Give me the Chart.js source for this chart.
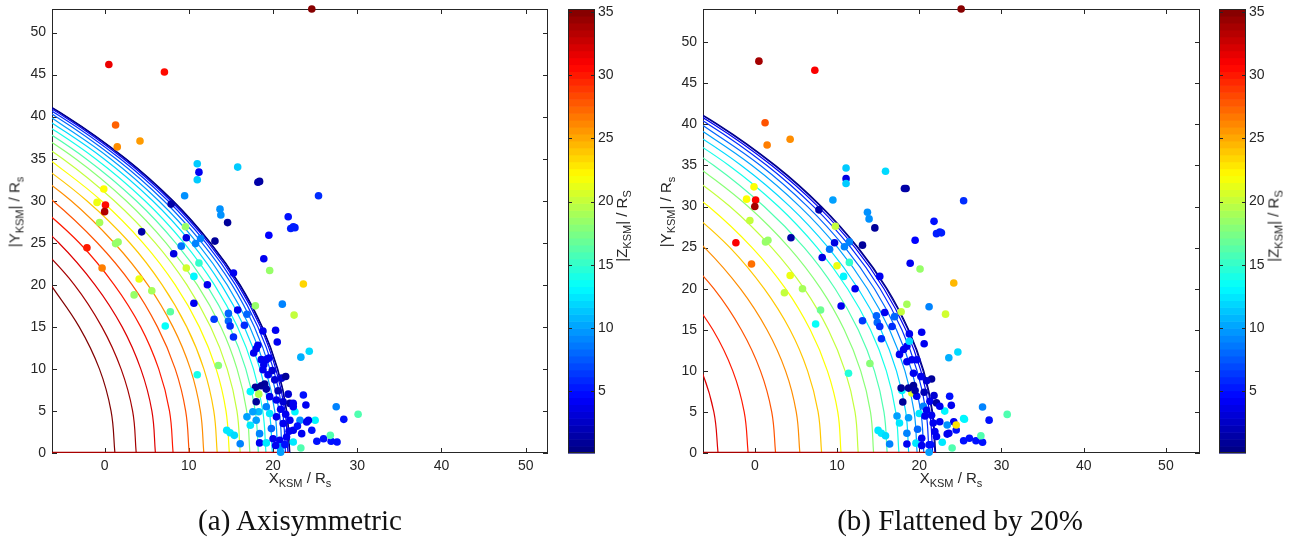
<!DOCTYPE html>
<html>
<head>
<meta charset="utf-8">
<script src="https://cdn.jsdelivr.net/npm/chart.js@4.4.1/dist/chart.umd.min.js"></script>
<style>
  body { margin: 0; background: #fff; width: 1297px; height: 544px; overflow: hidden; position: relative;
         font-family: "Liberation Sans", Arial, sans-serif; }
  canvas { position: absolute; top: 0; }
  .lbl { position: absolute; white-space: nowrap; font-size: 15px; line-height: 1; color: #262626;
         transform: translate(-50%, -50%); }
  .lbl.rot { transform: translate(-50%, -50%) rotate(-90deg); }
  .lbl sub { font-size: 11px; vertical-align: -4px; line-height: 1; }
  .cap { position: absolute; top: 520px; transform: translate(-50%, -50%); white-space: nowrap;
         font-family: "Liberation Serif", "DejaVu Serif", serif; font-size: 29px; color: #111; }
</style>
</head>
<body>
<canvas id="plot-a" width="560" height="500" style="left:0"></canvas>
<canvas id="cbar-a" width="80" height="500" style="left:560px"></canvas>
<canvas id="plot-b" width="560" height="500" style="left:650px"></canvas>
<canvas id="cbar-b" width="80" height="500" style="left:1211px"></canvas>

<div class="lbl" style="left:300px;top:479px">X<sub>KSM</sub> / R<sub>s</sub></div>
<div class="lbl rot" style="left:16px;top:212px">|Y<sub>KSM</sub>| / R<sub>s</sub></div>
<div class="lbl rot" style="left:623px;top:226px">|Z<sub>KSM</sub>| / R<sub>S</sub></div>
<div class="lbl" style="left:951px;top:479px">X<sub>KSM</sub> / R<sub>s</sub></div>
<div class="lbl rot" style="left:667px;top:212px">|Y<sub>KSM</sub>| / R<sub>s</sub></div>
<div class="lbl rot" style="left:1275px;top:226px">|Z<sub>KSM</sub>| / R<sub>S</sub></div>

<div class="cap" style="left:300px">(a) Axisymmetric</div>
<div class="cap" style="left:960px">(b) Flattened by 20%</div>

<script>
/*  ── DATA ───────────────────────────────────────────────────────  */
const xTicks = [0, 10, 20, 30, 40, 50];
const yTicks = [0, 5, 10, 15, 20, 25, 30, 35, 40, 45, 50];
const cbTicks = [5, 10, 15, 20, 25, 30, 35];
const zRange = [0.1, 35.25];                    // colour scale limits

// magnetopause cuts |Z| = level: x read at these |Y| values
const curveY = [0, 5, 10, 15, 20, 25, 30, 35, 40, 45];

const levelsA = [0, 2, 4, 6, 8, 10, 12, 14, 16, 18, 20, 22, 24, 26, 28, 30, 32, 34, 36];
const curvesA = [
  [22.00, 21.63, 20.56, 18.72, 16.10, 12.58, 8.13, 2.53, -4.47, -13.18],
  [21.94, 21.58, 20.50, 18.67, 16.03, 12.52, 8.06, 2.46, -4.55, -13.27],
  [21.77, 21.41, 20.32, 18.50, 15.85, 12.33, 7.85, 2.23, -4.79, -13.53],
  [21.48, 21.12, 20.04, 18.19, 15.54, 12.02, 7.51, 1.86, -5.20, -13.98],
  [21.08, 20.72, 19.62, 17.77, 15.13, 11.56, 7.03, 1.34, -5.76, -14.59],
  [20.56, 20.20, 19.09, 17.23, 14.55, 10.98, 6.42, 0.69, -6.48],
  [19.92, 19.55, 18.45, 16.57, 13.87, 10.29, 5.70, -0.10, -7.35],
  [19.16, 18.78, 17.67, 15.77, 13.04, 9.42, 4.78, -1.09, -8.40],
  [18.26, 17.89, 16.76, 14.85, 12.10, 8.43, 3.75, -2.22, -9.66],
  [17.25, 16.87, 15.72, 13.80, 11.00, 7.28, 2.55, -3.46, -11.07],
  [16.10, 15.71, 14.55, 12.58, 9.77, 6.01, 1.14, -4.98, -12.62],
  [14.81, 14.41, 13.24, 11.24, 8.38, 4.55, -0.39, -6.66],
  [13.37, 12.96, 11.78, 9.75, 6.83, 2.98, -2.12, -8.51],
  [11.78, 11.37, 10.18, 8.11, 5.13, 1.12, -3.98, -10.60],
  [10.04, 9.62, 8.38, 6.27, 3.27, -0.87, -6.16, -12.82],
  [8.13, 7.70, 6.42, 4.28, 1.14, -3.02, -8.49],
  [6.03, 5.61, 4.29, 2.08, -1.15, -5.46, -11.07],
  [3.75, 3.32, 1.95, -0.33, -3.59, -8.08],
  [1.22, 0.76, -0.62, -3.02, -6.40],
];

const levelsB = [0, 2, 4, 6, 8, 10, 12, 14, 16, 18, 20, 22, 24, 26, 28, 30, 32];
const curvesB = [
  [22.00, 21.63, 20.56, 18.72, 16.10, 12.58, 8.13, 2.53, -4.47, -13.18],
  [21.90, 21.55, 20.46, 18.64, 16.00, 12.48, 8.02, 2.41, -4.60, -13.32],
  [21.63, 21.27, 20.20, 18.36, 15.71, 12.19, 7.70, 2.06, -4.98, -13.73],
  [21.19, 20.83, 19.74, 17.89, 15.24, 11.69, 7.16, 1.48, -5.61, -14.42],
  [20.56, 20.20, 19.09, 17.23, 14.55, 10.98, 6.42, 0.69, -6.48],
  [19.74, 19.38, 18.26, 16.39, 13.69, 10.09, 5.48, -0.33, -7.59],
  [18.72, 18.36, 17.23, 15.33, 12.58, 8.94, 4.28, -1.64, -9.01],
  [17.53, 17.14, 16.00, 14.07, 11.28, 7.59, 2.88, -3.14, -10.71],
  [16.10, 15.71, 14.55, 12.58, 9.77, 6.01, 1.14, -4.98, -12.62],
  [14.45, 14.07, 12.88, 10.88, 8.02, 4.17, -0.81, -7.10],
  [12.58, 12.19, 10.98, 8.94, 6.01, 2.06, -3.02, -9.54],
  [10.49, 10.09, 8.83, 6.74, 3.74, -0.33, -5.61, -12.23],
  [8.13, 7.70, 6.42, 4.28, 1.14, -3.02, -8.49],
  [5.48, 5.04, 3.74, 1.48, -1.76, -6.11, -11.73],
  [2.53, 2.06, 0.69, -1.64, -4.98, -9.54],
  [-0.81, -1.29, -2.68, -5.10, -8.62],
  [-4.47, -4.98, -6.48, -9.01],
];

// crossings, panel (a)
const ptsAX = [24.6, 0.5, 7.1, 1.3, 1.5, 4.2, 11.0, 11.2, 11.0, 15.8, 18.4, 18.2, 25.4, 9.5, 7.9, -0.1, -0.9, 0.1, 0.0, -0.6,
  4.4, 1.3, 1.6, -2.1, 13.7, 13.8, 14.6, 21.8, 22.1, 22.6, 22.4, 19.5, 9.6, 9.7, 11.4, 10.8, 9.1, 13.1, 8.2, 18.9,
  11.2, 9.7, 19.6, 23.6, 15.3, 12.2, 10.6, 4.1, 5.6, 3.5, -0.3, 7.8, 7.2, 10.6, 14.7, 15.8, 13.0, 14.7, 14.9, 16.6,
  15.3, 16.9, 17.9, 21.1, 22.5, 20.3, 20.5, 18.8, 24.3, 23.3, 18.2, 17.7, 18.0, 18.6, 19.2, 19.5, 18.8, 19.4, 20.2, 21.0,
  21.5, 13.5, 11.0, 17.9, 18.6, 19.0, 19.2, 17.3, 18.3, 18.0, 19.6, 20.4, 21.2, 22.0, 22.4, 23.6, 23.9, 22.6, 19.2, 16.9,
  17.3, 18.0, 19.6, 20.4, 21.2, 22.0, 23.2, 24.0, 25.0, 24.6, 23.4, 22.4, 14.5, 14.9, 15.4, 16.1, 18.4, 18.4, 19.2, 20.0,
  20.8, 21.6, 22.4, 20.9, 20.9, 23.3, 25.2, 26.0, 26.9, 27.6, 30.1, 27.5, 28.4, 26.8, 22.4, 24.2, 20.6, 21.8, 20.9, 21.5,
  21.9, 19.8, 20.3, 21.4, 22.9, 18.9, 19.9, 18.3, 17.6];
const ptsAY = [52.8, 46.2, 45.3, 39.0, 36.4, 37.1, 34.4, 33.4, 32.5, 34.0, 32.3, 32.2, 30.6, 30.6, 29.6, 31.4, 29.8, 29.5, 28.7, 27.4,
  26.3, 24.9, 25.1, 24.4, 29.0, 28.3, 27.4, 28.1, 26.7, 26.8, 26.9, 25.9, 26.9, 25.6, 25.5, 24.9, 24.6, 25.2, 23.7, 23.1,
  22.6, 22.0, 21.7, 20.1, 21.4, 20.0, 21.0, 20.7, 19.3, 18.8, 22.0, 16.8, 15.1, 17.8, 16.6, 17.0, 15.9, 15.7, 15.1, 15.2,
  13.8, 16.5, 17.5, 17.7, 16.4, 14.6, 13.2, 14.5, 12.1, 11.4, 12.8, 11.9, 12.4, 11.1, 11.1, 11.3, 9.9, 9.3, 8.7, 8.9,
  9.1, 10.4, 9.3, 7.8, 8.0, 8.2, 7.6, 7.3, 7.0, 6.1, 6.7, 6.3, 6.1, 5.9, 5.9, 6.9, 5.7, 4.9, 5.5, 4.3,
  3.3, 3.9, 4.7, 4.3, 3.5, 3.9, 3.9, 3.7, 3.9, 2.7, 2.3, 2.7, 2.7, 2.4, 2.1, 1.1, 2.3, 1.2, 1.2, 1.7,
  1.5, 1.9, 1.3, 0.75, 0.1, 0.6, 1.4, 1.7, 1.4, 1.3, 4.6, 5.5, 4.0, 2.1, 5.5, 3.9, 7.4, 7.0, 5.2, 4.6,
  2.6, 2.9, 0.9, 1.0, 3.2, 10.5, 9.8, 4.9, 4.9];
const ptsAZ = [35, 31.5, 30.5, 27.5, 26, 25.5, 11.5, 4, 11.5, 11.5, 1, 1.5, 6, 9.5, 1.5, 22, 21.5, 30.5, 33.5, 19,
  1.5, 18.5, 18.5, 30, 9.5, 9.5, 1, 5, 5.5, 5.5, 5.5, 4.5, 18.5, 3.5, 9, 9, 8.5, 1, 3.5, 4,
  15, 20.5, 18.5, 23.5, 4, 4, 13, 21.5, 19, 18.5, 26.5, 16.5, 13.5, 4, 8, 4, 6.5, 8, 6, 6,
  6, 8, 18.5, 9, 20, 4, 4, 4, 12, 10.5, 4, 4, 4, 4, 4, 4, 4, 4, 3, 3,
  1, 18, 14, 1, 1, 1, 1.5, 13, 19.5, 1, 4, 4, 3, 1.5, 4, 5, 4, 13, 9, 10,
  12.5, 10, 12.5, 4, 4, 4, 9.5, 4, 13, 5, 4, 4, 12.5, 12.5, 12, 9, 9, 4, 12.5, 4,
  4, 4, 12.5, 10, 10, 16, 5, 5, 5, 5, 16, 9, 5, 16, 4, 4, 2, 3, 4, 4,
  4, 8, 4, 5, 5, 4, 3, 11, 10];

// crossings, panel (b)
const ptsBX = [25.1, 0.5, 7.3, 1.25, 1.5, 4.3, 11.1, 11.1, 11.1, 15.9, 18.4, 18.2, 25.4, 9.5, 7.8, -0.1, -1.0, 0.1, 0.0, -0.6,
  4.4, 1.3, 1.6, -2.3, 13.7, 13.9, 14.6, 21.8, 22.1, 22.5, 22.7, 19.5, 9.8, 9.7, 11.5, 10.9, 9.1, 13.1, 8.2, 18.9,
  11.5, 10.0, 20.1, -0.4, 4.3, 3.6, 5.8, 8.0, 7.4, 10.8, 12.2, 10.5, 15.2, 14.8, 15.8, 13.1, 14.9, 15.2, 16.7, 15.4,
  17.0, 17.8, 18.5, 24.2, 21.2, 23.2, 20.3, 20.6, 18.8, 24.7, 23.6, 14.0, 11.4, 19.1, 18.0, 17.9, 23.7, 23.9, 23.1, 25.4,
  24.2, 22.8, 24.0, 25.4, 26.1, 26.9, 27.7, 21.2, 21.2, 15.0, 15.4, 15.9, 16.4, 18.5, 19.6, 18.5, 17.3, 17.6, 18.7, 20.0,
  20.7, 21.7, 22.5, 23.4, 24.5, 23.6, 20.3, 22.1, 20.5, 21.3, 22.1, 22.5, 19.7, 18.7, 19.3, 19.5, 17.8, 21.5, 20.9, 20.2,
  19.3, 18.5, 19.1, 19.7, 17.6, 18.1, 18.5, 18.8, 27.7, 28.5, 30.7, 25.5, 27.5, 24.5, 23.4, 20.6, 21.8, 20.9, 21.5, 21.9,
  19.8, 20.3, 21.4];
const ptsBY = [54.05, 47.7, 46.6, 40.2, 37.5, 38.2, 34.7, 33.4, 32.8, 34.3, 32.2, 32.2, 30.7, 30.8, 29.6, 32.4, 30.9, 30.8, 30.0, 28.3,
  26.2, 25.7, 25.9, 25.6, 29.3, 28.5, 27.4, 28.2, 26.7, 26.9, 26.8, 25.9, 27.6, 25.6, 25.7, 25.1, 24.8, 25.3, 23.8, 23.1,
  23.2, 22.8, 22.4, 23.0, 21.6, 19.5, 20.0, 17.4, 15.7, 21.5, 20.0, 17.9, 21.5, 16.7, 17.1, 16.1, 15.9, 15.4, 15.4, 13.9,
  16.6, 17.2, 18.1, 20.7, 17.8, 16.9, 14.7, 13.3, 14.5, 12.3, 11.6, 10.9, 9.7, 7.3, 6.2, 7.6, 6.9, 5.8, 5.1, 4.2,
  3.8, 1.3, 0.6, 1.5, 1.8, 1.5, 1.3, 0.1, 1.0, 2.75, 2.4, 2.1, 1.1, 1.1, 1.2, 2.4, 4.5, 3.65, 4.3, 4.8,
  4.5, 3.65, 3.8, 3.4, 2.8, 2.4, 1.8, 2.0, 5.7, 6.3, 6.1, 5.7, 6.9, 7.9, 8.2, 7.6, 7.9, 9.0, 8.8, 9.3,
  9.7, 11.1, 11.35, 11.35, 12.0, 12.6, 13.0, 13.6, 5.6, 4.0, 4.7, 4.1, 2.1, 3.4, 2.3, 7.4, 7.0, 5.2, 4.6, 2.6,
  2.9, 0.9, 1.0];
const ptsBZ = [35, 34, 31, 28, 26.5, 26, 11.5, 3.5, 11.5, 12, 1, 1.5, 6, 10, 1.5, 22, 22, 31, 34, 20,
  1.5, 18.5, 18.5, 31, 9.5, 9.5, 1, 5, 5.5, 5.5, 5.5, 4.5, 20, 3.5, 9, 9, 8.5, 1, 3.5, 4,
  15, 21.5, 18.5, 27, 21.5, 20, 19, 17, 13.5, 13, 4, 4, 4, 8, 4, 6.5, 8, 6, 6, 6,
  8, 20, 19, 24.5, 9, 20.5, 4, 4, 4, 12, 10.5, 18, 14.5, 21, 1, 13, 5, 4, 13, 13,
  4, 12.5, 16, 5, 5, 5, 5, 10, 5, 12.5, 12.5, 12, 9, 4, 12.5, 9, 10, 12.5, 10, 12.5,
  4, 4, 4, 9.5, 5, 4, 4, 4, 9, 4, 1.5, 4, 4, 1, 1, 1.5, 1, 1, 3, 4,
  4, 4, 4, 4, 4, 4, 4, 12, 9, 5, 16, 13, 16, 23, 4, 2, 3, 4, 4, 4,
  8, 4, 5];
/*  ───────────────────────────────────────────────────────────────  */

const AXIS_COLOR = "#262626";
const TICK_FONT = { family: "'Liberation Sans', Arial, sans-serif", size: 14 };

// matlab "jet"
function jet(t) {
  t = Math.min(1, Math.max(0, t));
  const c = (v) => Math.round(255 * Math.min(1, Math.max(0, v)));
  return `rgb(${c(1.5 - Math.abs(4 * t - 3))},${c(1.5 - Math.abs(4 * t - 2))},${c(1.5 - Math.abs(4 * t - 1))})`;
}
const zColor = (z) => jet((z - zRange[0]) / (zRange[1] - zRange[0]));

// no extra room for half tick labels: the plot box is placed by the padding only
const fixY = (w) => (s) => { s.width = w; s.paddingTop = 0; s.paddingBottom = 0; };

// box with inward ticks on all four sides
const boxPlugin = {
  id: "box",
  beforeDatasetsDraw(chart) {
    const { ctx, chartArea: a, scales } = chart;
    ctx.save();
    ctx.strokeStyle = AXIS_COLOR;
    ctx.lineWidth = 1;
    ctx.strokeRect(a.left + 0.5, a.top + 0.5, a.width - 1, a.height - 1);
    ctx.beginPath();
    scales.x.ticks.forEach((t) => {
      const px = Math.round(scales.x.getPixelForValue(t.value)) + 0.5;
      ctx.moveTo(px, a.bottom); ctx.lineTo(px, a.bottom - 5);
      ctx.moveTo(px, a.top); ctx.lineTo(px, a.top + 5);
    });
    scales.y.ticks.forEach((t) => {
      const py = Math.round(scales.y.getPixelForValue(t.value)) + 0.5;
      ctx.moveTo(a.left, py); ctx.lineTo(a.left + 5, py);
      ctx.moveTo(a.right, py); ctx.lineTo(a.right - 5, py);
    });
    ctx.stroke();
    ctx.restore();
  },
};

// 64-step colour bar painted through the y scale
const colorbarPlugin = {
  id: "colorbar",
  beforeDatasetsDraw(chart) {
    const { ctx, chartArea: a, scales: { y } } = chart;
    const n = 64, span = zRange[1] - zRange[0];
    ctx.save();
    for (let i = 0; i < n; i++) {
      const p0 = y.getPixelForValue(zRange[0] + (span * i) / n);
      const p1 = y.getPixelForValue(zRange[0] + (span * (i + 1)) / n);
      ctx.fillStyle = jet((i + 0.5) / n);
      ctx.fillRect(a.left, p1, a.width, p0 - p1 + 0.6);
    }
    ctx.strokeStyle = AXIS_COLOR;
    ctx.lineWidth = 1;
    ctx.strokeRect(a.left + 0.5, a.top + 0.5, a.width - 1, a.height - 1);
    ctx.beginPath();
    y.ticks.forEach((t) => {
      const py = Math.round(y.getPixelForValue(t.value)) + 0.5;
      ctx.moveTo(a.left, py); ctx.lineTo(a.left + 4, py);
      ctx.moveTo(a.right, py); ctx.lineTo(a.right - 4, py);
    });
    ctx.stroke();
    ctx.restore();
  },
};

function makePlot(canvasId, opt) {
  const datasets = [];

  datasets.push({
    label: "crossings",
    data: opt.px.map((x, i) => ({ x, y: opt.py[i] })),
    backgroundColor: opt.pz.map(zColor),
    borderWidth: 0,
    pointRadius: 3.8,
    clip: false,
    order: 0,
  });

  // dark red trace along the X axis, up to the Z = 0 nose
  datasets.push({
    label: "axis",
    data: [{ x: opt.xLim[0], y: 0 }, { x: opt.curves[0][0], y: 0 }],
    showLine: true,
    borderColor: jet(0.96),
    borderWidth: 2.5,
    pointRadius: 0,
    order: 1,
  });

  opt.levels.forEach((z, i) => {
    datasets.push({
      label: "Z=" + z,
      data: opt.curves[i].map((x, j) => ({ x, y: curveY[j] })),
      showLine: true,
      borderColor: zColor(z),
      borderWidth: 1.2,
      pointRadius: 0,
      tension: 0.4,
      order: 2,
    });
  });

  new Chart(document.getElementById(canvasId), {
    type: "scatter",
    data: { datasets },
    options: {
      responsive: false,
      animation: false,
      events: [],
      layout: { padding: { top: 9, right: opt.padRight, left: 0, bottom: 0 } },
      elements: { line: { capBezierPoints: false } },
      plugins: { legend: { display: false }, tooltip: { enabled: false } },
      scales: {
        x: {
          type: "linear",
          min: opt.xLim[0],
          max: opt.xLim[1],
          afterBuildTicks: (s) => { s.ticks = xTicks.map((v) => ({ value: v })); },
          afterFit: (s) => { s.height = 47; s.paddingLeft = 0; s.paddingRight = 0; },
          grid: { display: false, drawTicks: false },
          border: { display: false },
          ticks: { font: TICK_FONT, color: AXIS_COLOR, padding: 5, maxRotation: 0, autoSkip: false },
        },
        y: {
          type: "linear",
          min: 0,
          max: opt.yMax,
          afterBuildTicks: (s) => { s.ticks = yTicks.map((v) => ({ value: v })); },
          afterFit: fixY(opt.yWidth),
          grid: { display: false, drawTicks: false },
          border: { display: false },
          ticks: { font: TICK_FONT, color: AXIS_COLOR, padding: 6, autoSkip: false },
        },
      },
    },
    plugins: [boxPlugin],
  });
}

function makeColorbar(canvasId) {
  new Chart(document.getElementById(canvasId), {
    type: "scatter",
    data: { datasets: [] },
    options: {
      responsive: false,
      animation: false,
      events: [],
      layout: { padding: { top: 9, bottom: 47, left: 8, right: 0 } },
      plugins: { legend: { display: false }, tooltip: { enabled: false } },
      scales: {
        x: { display: false, min: 0, max: 1 },
        y: {
          position: "right",
          min: zRange[0],
          max: zRange[1],
          afterBuildTicks: (s) => { s.ticks = cbTicks.map((v) => ({ value: v })); },
          afterFit: fixY(45),
          grid: { display: false, drawTicks: false },
          border: { display: false },
          ticks: { font: TICK_FONT, color: AXIS_COLOR, padding: 3, autoSkip: false },
        },
      },
    },
    plugins: [colorbarPlugin],
  });
}

makePlot("plot-a", {
  px: ptsAX, py: ptsAY, pz: ptsAZ, levels: levelsA, curves: curvesA,
  xLim: [-6.25, 52.65], yMax: 52.8, yWidth: 52, padRight: 12,
});
makePlot("plot-b", {
  px: ptsBX, py: ptsBY, pz: ptsBZ, levels: levelsB, curves: curvesB,
  xLim: [-6.3, 54.15], yMax: 54.05, yWidth: 53, padRight: 10,
});
makeColorbar("cbar-a");
makeColorbar("cbar-b");
</script>
</body>
</html>
